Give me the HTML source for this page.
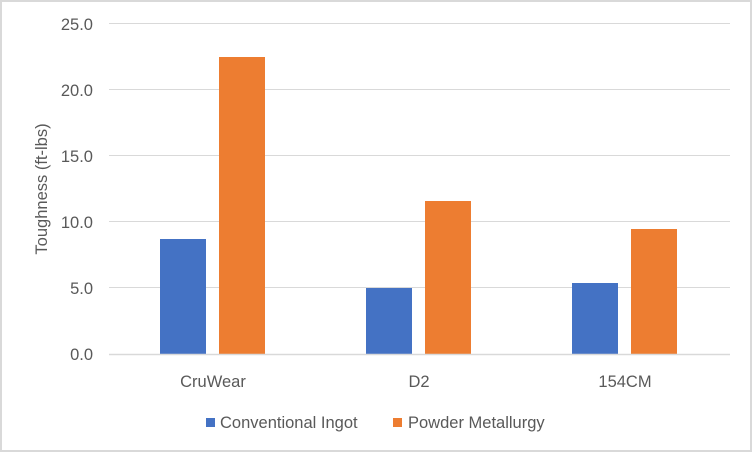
<!DOCTYPE html>
<html><head><style>
body{margin:0;background:#fff}
svg{display:block}
text{font-family:"Liberation Sans",sans-serif;fill:#595959}
</style></head><body>
<svg width="752" height="452" xmlns="http://www.w3.org/2000/svg">
<rect x="1" y="1" width="750" height="450" fill="#fff" stroke="#d9d9d9" stroke-width="2"/>
<g stroke="#d9d9d9" stroke-width="1">
<line x1="109" x2="730" y1="23.5" y2="23.5"/>
<line x1="109" x2="730" y1="89.5" y2="89.5"/>
<line x1="109" x2="730" y1="155.5" y2="155.5"/>
<line x1="109" x2="730" y1="221.5" y2="221.5"/>
<line x1="109" x2="730" y1="287.5" y2="287.5"/>
</g>
<g font-size="16.5" text-anchor="end">
<text x="93" y="30">25.0</text>
<text x="93" y="96">20.0</text>
<text x="93" y="162">15.0</text>
<text x="93" y="228">10.0</text>
<text x="93" y="294">5.0</text>
<text x="93" y="360">0.0</text>
</g>
<text transform="translate(47,189) rotate(-90)" font-size="16.5" text-anchor="middle">Toughness (ft-lbs)</text>
<g fill="#4472c4">
<rect x="160" y="239" width="46" height="115"/>
<rect x="366" y="288" width="46" height="66"/>
<rect x="572" y="283" width="46" height="71"/>
</g>
<g fill="#ed7d31">
<rect x="219" y="57" width="46" height="297"/>
<rect x="425" y="201" width="46" height="153"/>
<rect x="631" y="229" width="46" height="125"/>
</g>
<line x1="109" x2="730" y1="354.5" y2="354.5" stroke="#d9d9d9" stroke-width="1.5"/>
<g font-size="16.5" text-anchor="middle">
<text x="213" y="387">CruWear</text>
<text x="419" y="387">D2</text>
<text x="625" y="387">154CM</text>
</g>
<rect x="206" y="418" width="9" height="9" fill="#4472c4"/>
<text x="220" y="428" font-size="16.5">Conventional Ingot</text>
<rect x="393" y="418" width="9" height="9" fill="#ed7d31"/>
<text x="408" y="428" font-size="16.5">Powder Metallurgy</text>
</svg>
</body></html>
